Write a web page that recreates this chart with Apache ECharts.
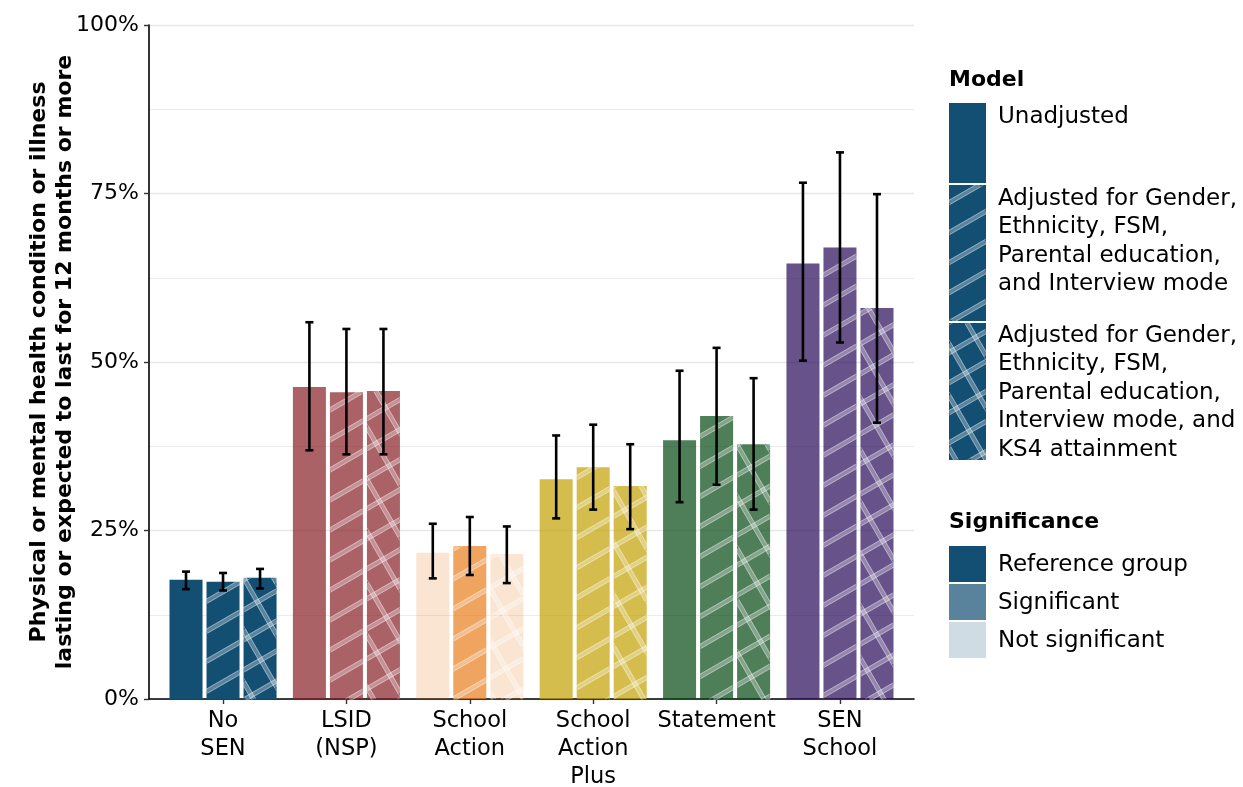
<!DOCTYPE html>
<html>
<head>
<meta charset="utf-8">
<script src="https://cdn.jsdelivr.net/npm/echarts@6/dist/echarts.min.js"></script>
<style>
  html, body { margin: 0; padding: 0; background: #ffffff; }
  #chart { width: 1243px; height: 787px; }
</style>
</head>
<body>
<div id="chart"></div>
<script>
// ---- data -------------------------------------------------------------
const categories = ['No\nSEN', 'LSID\n(NSP)', 'School\nAction', 'School\nAction\nPlus', 'Statement', 'SEN\nSchool'];

const modelNames = [
  ['Unadjusted'],
  ['Adjusted for Gender,', 'Ethnicity, FSM,', 'Parental education,', 'and Interview mode'],
  ['Adjusted for Gender,', 'Ethnicity, FSM,', 'Parental education,', 'Interview mode, and', 'KS4 attainment']
];
const significanceNames = ['Reference group', 'Significant', 'Not significant'];

// percentage with the condition, per model
const unadjusted   = [17.7, 46.3, 21.7, 32.6, 38.4, 64.6];
const adjusted     = [17.4, 45.5, 22.7, 34.4, 42.0, 67.0];
const adjustedKs4  = [18.0, 45.7, 21.5, 31.6, 37.8, 58.0];

// 95% confidence limits
const unadjustedLow  = [16.3, 36.9, 17.9, 26.8, 29.2, 50.2];
const unadjustedHigh = [18.9, 55.9, 26.0, 39.1, 48.7, 76.6];
const adjustedLow    = [16.1, 36.3, 18.4, 28.1, 31.8, 52.9];
const adjustedHigh   = [18.7, 54.9, 27.0, 40.7, 52.1, 81.1];
const adjustedKs4Low  = [16.4, 36.3, 17.2, 25.2, 28.1, 41.0];
const adjustedKs4High = [19.3, 54.9, 25.6, 37.8, 47.6, 74.9];

// significance: 0 = reference group, 1 = significant, 2 = not significant
const unadjustedSig  = [0, 1, 2, 1, 1, 1];
const adjustedSig    = [0, 1, 1, 1, 1, 1];
const adjustedKs4Sig = [0, 1, 2, 1, 1, 1];

const yTicks = [0, 25, 50, 75, 100];

// ---- styling ----------------------------------------------------------
const categoryColours = ['#134f73', '#871f27', '#e87d1c', '#c2a101', '#044812', '#270958'];
const significanceAlpha = [1, 0.7, 0.2];
const FONT = '"DejaVu Sans", Verdana, sans-serif';
const DODGE = 0.9;          // share of a category occupied by its three bars
const HATCH_SPACING = 26;   // px between hatch lines
const HATCH_ANGLE = 30;     // degrees

function rgba(hex, a) {
  const n = parseInt(hex.slice(1), 16);
  return 'rgba(' + ((n >> 16) & 255) + ',' + ((n >> 8) & 255) + ',' + (n & 255) + ',' + a + ')';
}

// line segments of one family of parallel lines, clipped to a rectangle
function hatchSegments(rect, angleDeg, spacing, phase) {
  const a = angleDeg * Math.PI / 180;
  const ux = Math.cos(a), uy = -Math.sin(a);
  const nx = -uy, ny = ux;
  const xs = [rect.x, rect.x + rect.width], ys = [rect.y, rect.y + rect.height];
  let pmin = Infinity, pmax = -Infinity;
  xs.forEach(x => ys.forEach(y => {
    const p = nx * x + ny * y;
    pmin = Math.min(pmin, p); pmax = Math.max(pmax, p);
  }));
  const segs = [];
  for (let k = Math.ceil((pmin - phase) / spacing); k * spacing + phase <= pmax; k++) {
    const c = k * spacing + phase;
    const px = nx * c, py = ny * c;
    let t0 = -Infinity, t1 = Infinity;
    if (Math.abs(ux) > 1e-9) {
      let ta = (xs[0] - px) / ux, tb = (xs[1] - px) / ux;
      if (ta > tb) { const s = ta; ta = tb; tb = s; }
      t0 = Math.max(t0, ta); t1 = Math.min(t1, tb);
    }
    if (Math.abs(uy) > 1e-9) {
      let ta = (ys[0] - py) / uy, tb = (ys[1] - py) / uy;
      if (ta > tb) { const s = ta; ta = tb; tb = s; }
      t0 = Math.max(t0, ta); t1 = Math.min(t1, tb);
    }
    if (t1 > t0) segs.push([px + t0 * ux, py + t0 * uy, px + t1 * ux, py + t1 * uy]);
  }
  return segs;
}

// white double-edged stripes; model 1 = single diagonal, model 2 = crosshatch
function hatchElements(rect, model) {
  const out = [];
  if (model === 0) return out;
  const angles = model === 1 ? [HATCH_ANGLE] : [HATCH_ANGLE, HATCH_ANGLE + 90];
  angles.forEach(ang => {
    hatchSegments(rect, ang, HATCH_SPACING, 0).forEach(s => out.push({
      type: 'line', silent: true,
      shape: { x1: s[0], y1: s[1], x2: s[2], y2: s[3] },
      style: { stroke: 'rgba(255,255,255,0.3)', lineWidth: 5 }
    }));
    [-2, 2].forEach(off => {
      hatchSegments(rect, ang, HATCH_SPACING, off).forEach(s => out.push({
        type: 'line', silent: true,
        shape: { x1: s[0], y1: s[1], x2: s[2], y2: s[3] },
        style: { stroke: 'rgba(255,255,255,0.34)', lineWidth: 1 }
      }));
    });
  });
  return out;
}

// ---- series data ------------------------------------------------------
const modelValues = [unadjusted, adjusted, adjustedKs4];
const modelLow = [unadjustedLow, adjustedLow, adjustedKs4Low];
const modelHigh = [unadjustedHigh, adjustedHigh, adjustedKs4High];
const modelSig = [unadjustedSig, adjustedSig, adjustedKs4Sig];

const barData = [];
const errorData = [];
categories.forEach((_, c) => {
  for (let m = 0; m < 3; m++) {
    barData.push([c, m, modelValues[m][c], modelSig[m][c]]);
    errorData.push([c, m, modelLow[m][c], modelHigh[m][c]]);
  }
});

function barCentre(c, m) { return c + (m - 1) * DODGE / 3; }

function renderBar(params, api) {
  const c = api.value(0), m = api.value(1), v = api.value(2), sig = api.value(3);
  const xc = barCentre(c, m);
  const topLeft = api.coord([xc - DODGE / 6, v]);
  const bottomRight = api.coord([xc + DODGE / 6, 0]);
  const rect = {
    x: topLeft[0] + 2, y: topLeft[1],
    width: bottomRight[0] - topLeft[0] - 4, height: bottomRight[1] - topLeft[1]
  };
  const children = [{
    type: 'rect', shape: rect,
    style: { fill: rgba(categoryColours[c], significanceAlpha[sig]) }
  }].concat(hatchElements(rect, m));
  return { type: 'group', children: children };
}

function renderError(params, api) {
  const c = api.value(0), m = api.value(1);
  const xc = barCentre(c, m);
  const lo = api.coord([xc, api.value(2)]);
  const hi = api.coord([xc, api.value(3)]);
  const cap = 4;
  const st = { stroke: '#000', lineWidth: 2.6 };
  return {
    type: 'group',
    children: [
      { type: 'line', shape: { x1: lo[0], y1: lo[1], x2: hi[0], y2: hi[1] }, style: st },
      { type: 'line', shape: { x1: hi[0] - cap, y1: hi[1], x2: hi[0] + cap, y2: hi[1] }, style: st },
      { type: 'line', shape: { x1: lo[0] - cap, y1: lo[1], x2: lo[0] + cap, y2: lo[1] }, style: st }
    ]
  };
}

// ---- legend -----------------------------------------------------------
const legendX = 949, keyW = 37, textX = 998, lineH = 28.5;
const textFont = '23px ' + FONT, titleFont = 'bold 22px ' + FONT;
const legend = [];
legend.push({ type: 'text', style: { x: legendX, y: 80, text: 'Model', font: titleFont, fill: '#000', verticalAlign: 'middle' } });
const modelKeys = [[103, 183], [185, 321], [323, 460]];
const modelTextTop = [117, 199, 336];
modelKeys.forEach((k, m) => {
  const rect = { x: legendX, y: k[0], width: keyW, height: k[1] - k[0] };
  legend.push({ type: 'rect', shape: rect, style: { fill: categoryColours[0] } });
  hatchElements(rect, m).forEach(e => legend.push(e));
  modelNames[m].forEach((line, i) => legend.push({
    type: 'text',
    style: { x: textX, y: modelTextTop[m] + i * lineH, text: line, font: textFont, fill: '#000', verticalAlign: 'middle' }
  }));
});
legend.push({ type: 'text', style: { x: legendX, y: 522, text: 'Significance', font: titleFont, fill: '#000', verticalAlign: 'middle' } });
significanceNames.forEach((name, i) => {
  const top = 546 + i * 38;
  legend.push({ type: 'rect', shape: { x: legendX, y: top, width: keyW, height: 36 }, style: { fill: rgba(categoryColours[0], significanceAlpha[i]) } });
  legend.push({
    type: 'text',
    style: { x: textX, y: top + 19, text: name, font: textFont, fill: '#000', verticalAlign: 'middle' }
  });
});

// ---- chart ------------------------------------------------------------
const chart = echarts.init(document.getElementById('chart'), null, { renderer: 'canvas', width: 1243, height: 787 });
chart.setOption({
  animation: false,
  backgroundColor: '#ffffff',
  textStyle: { fontFamily: FONT },
  grid: { left: 149, width: 765, top: 25, height: 674, containLabel: false, outerBoundsMode: 'none' },
  xAxis: {
    type: 'value', min: -0.6, max: 5.6,
    axisLine: { show: true, onZero: false, lineStyle: { color: '#000', width: 1.6 } },
    axisTick: { show: true, length: 5, customValues: categories.map((_, i) => i), lineStyle: { color: '#333', width: 1.4 } },
    axisLabel: {
      customValues: categories.map((_, i) => i),
      formatter: v => categories[Math.round(v)],
      fontSize: 22.5, lineHeight: 28, color: '#000', margin: 8, fontFamily: FONT
    },
    splitLine: { show: false }
  },
  yAxis: {
    type: 'value', min: 0, max: 100, interval: 25,
    axisLine: { show: true, onZero: false, lineStyle: { color: '#000', width: 1.6 } },
    axisTick: { show: true, length: 5, lineStyle: { color: '#333', width: 1.4 } },
    axisLabel: { formatter: v => v + '%', fontSize: 22, color: '#000', margin: 10, fontFamily: FONT, customValues: yTicks },
    splitLine: { show: true, lineStyle: { color: '#e8e8e8', width: 1.4 } },
    minorTick: { show: false, splitNumber: 2 },
    minorSplitLine: { show: true, lineStyle: { color: '#ebebeb', width: 1.2 } },
    name: 'Physical or mental health condition or illness\nlasting or expected to last for 12 months or more',
    nameLocation: 'middle', nameGap: 71, nameMoveOverlap: false,
    nameTextStyle: { fontSize: 22, fontWeight: 'bold', color: '#000', lineHeight: 26, fontFamily: FONT }
  },
  series: [
    { type: 'custom', name: 'bars', renderItem: renderBar, data: barData, encode: { x: 0, y: 2 }, z: 2 },
    { type: 'custom', name: 'ci', renderItem: renderError, data: errorData, encode: { x: 0, y: [2, 3] }, z: 3 }
  ],
  graphic: legend
});
</script>
</body>
</html>
